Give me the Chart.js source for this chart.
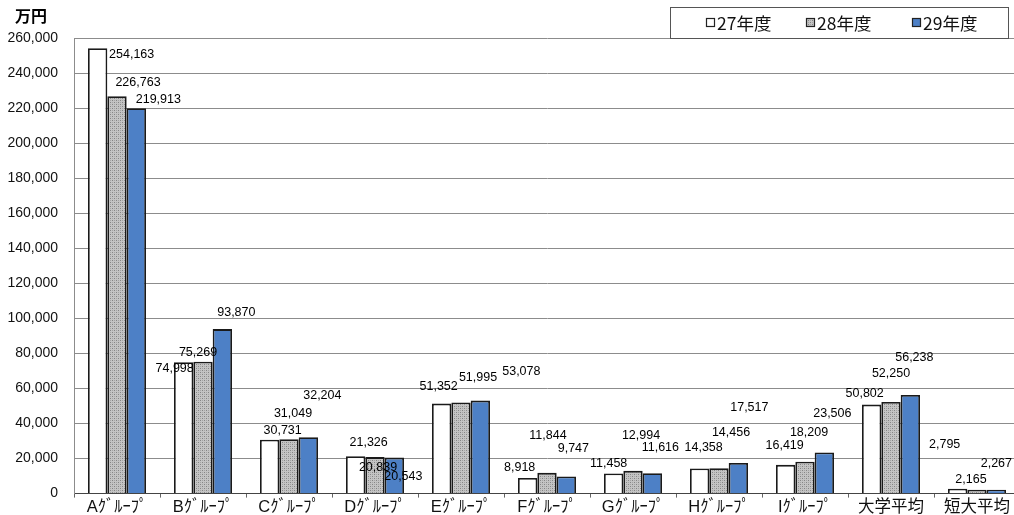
<!DOCTYPE html>
<html>
<head>
<meta charset="utf-8">
<script src="https://cdn.jsdelivr.net/npm/chart.js@4.4.1/dist/chart.umd.min.js"></script>
<style>
  html, body { margin: 0; padding: 0; background: #fff; overflow: hidden; }
  /* the original picture is cropped on the right and bottom, so the chart is a little larger than the window */
  #wrap { width: 1022px; height: 518px; position: relative; }
</style>
</head>
<body>
<div id="wrap"><canvas id="chart"></canvas></div>
<script>
// categories and values (万円)
const categories = ["Aｸﾞﾙｰﾌﾟ", "Bｸﾞﾙｰﾌﾟ", "Cｸﾞﾙｰﾌﾟ", "Dｸﾞﾙｰﾌﾟ", "Eｸﾞﾙｰﾌﾟ", "Fｸﾞﾙｰﾌﾟ",
  "Gｸﾞﾙｰﾌﾟ", "Hｸﾞﾙｰﾌﾟ", "Iｸﾞﾙｰﾌﾟ", "大学平均", "短大平均"];
const seriesNames = ["27年度", "28年度", "29年度"];
const values27 = [254163, 74998, 30731, 21326, 51352, 8918, 11458, 14358, 16419, 50802, 2795];
const values28 = [226763, 75269, 31049, 20839, 51995, 11844, 12994, 14456, 18209, 52250, 2165];
const values29 = [219913, 93870, 32204, 20543, 53078, 9747, 11616, 17517, 23506, 56238, 2267];
const yTicks = [0, 20000, 40000, 60000, 80000, 100000, 120000, 140000, 160000, 180000, 200000, 220000, 240000, 260000];

// label offsets from the top centre of each bar (the labels sit loosely, as in the original)
const labelDx = [
  [34, -9, 13, 13, -3, -8, -5, 4, -1, -7, -13],
  [21, -5, 4, 3, 17, 1, 8, 12, 4, 0, -6],
  [22, 14, 14, 9, 41, 7, 8, 11, 8, 4, 0]
];
const labelDy = [
  [6, 6, -9, -14, -17, -10, -10, -21, -19, -11, -44],
  [-14, -9, -26, 10, -25, -37, -35, -36, -29, -28, -10],
  [-9, -17, -42, 19, -29, -28, -26, -55, -39, -38, -26]
];

const FONT = "'Liberation Sans', Arial, 'Noto Sans CJK JP', sans-serif";
const JFONT = "'Noto Sans CJK JP', sans-serif";

// dotted grey fill for 28年度
function makeDots() {
  const c = document.createElement("canvas");
  c.width = 4; c.height = 4;
  const g = c.getContext("2d");
  g.fillStyle = "#c4c4c4";
  g.fillRect(0, 0, 4, 4);
  g.fillStyle = "#858585";
  g.fillRect(0, 0, 1, 1);
  g.fillRect(2, 2, 1, 1);
  g.fillStyle = "#a4a4a4";
  g.fillRect(2, 0, 1, 1);
  g.fillRect(0, 2, 1, 1);
  return g.createPattern(c, "repeat");
}
const dots = makeDots();
const fills = ["#ffffff", dots, "#4d80c6"];

const extras = {
  id: "extras",
  afterDatasetsDraw(chart) {
    const ctx = chart.ctx;
    ctx.save();
    // value labels
    ctx.font = "12.5px " + FONT;
    ctx.fillStyle = "#000";
    ctx.textAlign = "center";
    ctx.textBaseline = "middle";
    chart.data.datasets.forEach((ds, i) => {
      chart.getDatasetMeta(i).data.forEach((bar, j) => {
        ctx.fillText(ds.data[j].toLocaleString("en-US"), bar.x + labelDx[i][j], bar.y + labelDy[i][j]);
      });
    });
    // unit
    ctx.font = "bold 16px " + JFONT;
    ctx.textAlign = "left";
    ctx.fillText("万円", 15, 16);
    // legend box
    const bx = 670, by = 7, bw = 338, bh = 31;
    ctx.fillStyle = "#fff";
    ctx.fillRect(bx, by, bw, bh);
    ctx.strokeStyle = "#555";
    ctx.lineWidth = 1;
    ctx.strokeRect(bx + 0.5, by + 0.5, bw, bh);
    const lx = [706, 806, 912];
    ctx.font = "17.5px " + JFONT;
    seriesNames.forEach((name, i) => {
      ctx.fillStyle = fills[i];
      ctx.fillRect(lx[i], 18, 9, 9);
      ctx.strokeStyle = "#222";
      ctx.lineWidth = 1.2;
      ctx.strokeRect(lx[i] + 0.5, 18.5, 8, 8);
      ctx.fillStyle = "#111";
      ctx.fillText(name, lx[i] + 11, 23);
    });
    ctx.restore();
  }
};

const makeSet = (i, data) => ({
  label: seriesNames[i],
  data: data,
  backgroundColor: fills[i],
  borderColor: "#1a1a1a",
  borderWidth: 1.8,
  borderSkipped: "bottom"
});

new Chart(document.getElementById("chart"), {
  type: "bar",
  data: {
    labels: categories,
    datasets: [makeSet(0, values27), makeSet(1, values28), makeSet(2, values29)]
  },
  options: {
    responsive: true,
    maintainAspectRatio: false,
    animation: false,
    layout: { padding: { top: 38, right: 2, left: 0, bottom: 0 } },
    datasets: { bar: { categoryPercentage: 0.675, barPercentage: 1.0 } },
    scales: {
      x: {
        grid: { display: true, drawOnChartArea: false, drawTicks: true, tickLength: 4, color: "#666", offset: true },
        border: { color: "#444", width: 1 },
        ticks: { font: { size: 16.5, family: FONT }, color: "#111", padding: 0, maxRotation: 0, autoSkip: false },
        afterFit(axis) { axis.height = 22; }
      },
      y: {
        min: 0,
        max: 260000,
        afterBuildTicks(axis) { axis.ticks = yTicks.map(v => ({ value: v })); },
        grid: { color: "#8c8c8c", lineWidth: 1, drawTicks: false },
        border: { color: "#8c8c8c", width: 1 },
        ticks: {
          font: { size: 14, family: FONT },
          color: "#111",
          padding: 16,
          callback: v => v.toLocaleString("en-US")
        },
        afterFit(axis) { axis.width = 74; }
      }
    },
    plugins: {
      legend: { display: false },
      tooltip: { enabled: false }
    }
  },
  plugins: [extras]
});
</script>
</body>
</html>
